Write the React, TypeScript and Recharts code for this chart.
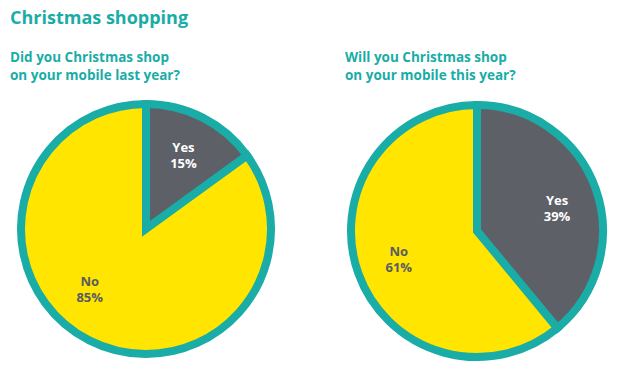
import { PieChart, Pie, Cell } from 'recharts'

const categories = ['Yes', 'No']
const lastYear = [15, 85]
const thisYear = [39, 61]

const TEAL = '#1aaca6'
const COLORS = ['#5d6167', '#ffe500']
const LABEL_COLORS = ['#ffffff', '#585c63']
const FONT = '"Open Sans", "Noto Sans", sans-serif'

const toRows = (values: number[]) =>
  categories.map((name, i) => ({ name, value: values[i] }))

const RAD = Math.PI / 180

// shift = small per-slice nudge (degrees) so labels sit where the designer put them
const makeLabel = (shift: number[]) => (props: any) => {
  const { cx, cy, midAngle, outerRadius, index, name, value } = props
  const r = outerRadius * 0.66
  const a = (midAngle + shift[index]) * RAD
  const x = cx + r * Math.cos(-a)
  const y = cy + r * Math.sin(-a)
  return (
    <text
      x={x}
      y={y}
      textAnchor="middle"
      fill={LABEL_COLORS[index]}
      fontFamily={FONT}
      fontWeight={700}
      fontSize={13}
    >
      <tspan x={x} dy={-3}>{name}</tspan>
      <tspan x={x} dy={16}>{value}%</tspan>
    </text>
  )
}

const heading: React.CSSProperties = {
  position: 'absolute',
  color: TEAL,
  fontFamily: FONT,
  fontWeight: 700,
  margin: 0,
}

export default function App() {
  return (
    <div style={{ position: 'absolute', left: 0, top: 0, width: 620, height: 376, background: '#fff' }}>
      <div style={{ ...heading, left: 10, top: 5, fontSize: 18 }}>Christmas shopping</div>
      <div style={{ ...heading, left: 10, top: 48, fontSize: 13.5, lineHeight: '18px' }}>
        Did you Christmas shop<br />on your mobile last year?
      </div>
      <div style={{ ...heading, left: 345, top: 48, fontSize: 13.5, lineHeight: '18px' }}>
        Will you Christmas shop<br />on your mobile this year?
      </div>

      <PieChart width={620} height={376} style={{ position: 'absolute', left: 0, top: 0 }}>
        <Pie
          data={toRows(lastYear)}
          dataKey="value"
          nameKey="name"
          cx={141}
          cy={224}
          outerRadius={125}
          startAngle={90}
          endAngle={-270}
          stroke={TEAL}
          strokeWidth={8}
          label={makeLabel([0, -16])}
          labelLine={false}
          isAnimationActive={false}
        >
          {categories.map((c, i) => (
            <Cell key={c} fill={COLORS[i]} />
          ))}
        </Pie>
        <Pie
          data={toRows(thisYear)}
          dataKey="value"
          nameKey="name"
          cx={472}
          cy={226}
          outerRadius={126}
          startAngle={90}
          endAngle={-270}
          stroke={TEAL}
          strokeWidth={8}
          label={makeLabel([-4, 0])}
          labelLine={false}
          isAnimationActive={false}
        >
          {categories.map((c, i) => (
            <Cell key={c} fill={COLORS[i]} />
          ))}
        </Pie>
      </PieChart>
    </div>
  )
}
